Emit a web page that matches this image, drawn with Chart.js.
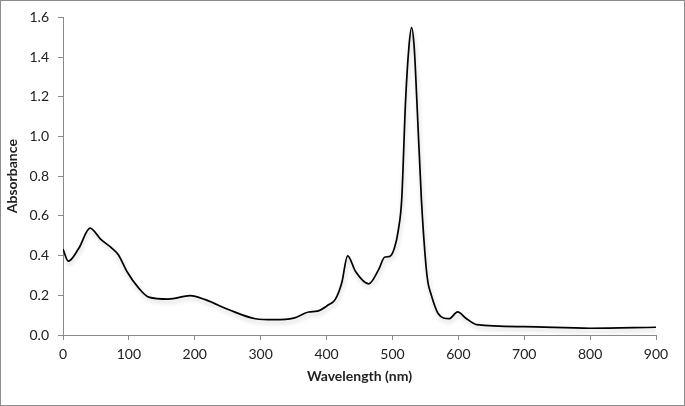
<!DOCTYPE html>
<html>
<head>
<meta charset="utf-8">
<script src="https://cdn.jsdelivr.net/npm/chart.js@4/dist/chart.umd.min.js"></script>
<style>
  body { margin: 0; background: #fff; }
  canvas { display: block; }
</style>
</head>
<body>
<canvas id="spectrum" width="685" height="406"></canvas>
<script>
// absorbance spectrum, values
var wavelength = [0, 8, 24, 41, 57, 74, 84, 97, 115, 130, 160, 193, 216, 252, 292, 320, 350, 373, 386, 403, 413, 423, 432, 444, 464, 479, 488, 496, 503, 509, 514, 520, 525, 529, 533, 537, 544, 551, 554, 558, 569, 586, 599, 611, 628, 700, 800, 900];
var absorbance = [0.433, 0.372, 0.437, 0.538, 0.483, 0.438, 0.404, 0.32, 0.236, 0.191, 0.181, 0.198, 0.178, 0.127, 0.082, 0.077, 0.085, 0.116, 0.12, 0.152, 0.178, 0.262, 0.399, 0.32, 0.258, 0.329, 0.392, 0.396, 0.438, 0.53, 0.68, 1.184, 1.45, 1.548, 1.45, 1.184, 0.68, 0.345, 0.263, 0.211, 0.11, 0.082, 0.116, 0.086, 0.052, 0.042, 0.034, 0.039];

var xTicks = [0, 100, 200, 300, 400, 500, 600, 700, 800, 900];
var yTicks = [0, 0.2, 0.4, 0.6, 0.8, 1.0, 1.2, 1.4, 1.6];

var axisColor = '#8a8a8a';
var textColor = '#222';

// grey frame round the whole picture
const framePlugin = {
    id: 'frame',
    afterDraw(chart) {
        const ctx = chart.ctx;
        ctx.save();
        ctx.strokeStyle = '#8c8c8c';
        ctx.lineWidth = 1;
        ctx.strokeRect(0.5, 0.5, chart.width - 1, chart.height - 1);
        ctx.restore();
    }
};

// soft shadow under the line
const shadowPlugin = {
    id: 'lineShadow',
    beforeDatasetDraw(chart) {
        const ctx = chart.ctx;
        ctx.save();
        ctx.shadowColor = 'rgba(0, 0, 0, 0.2)';
        ctx.shadowBlur = 4;
        ctx.shadowOffsetX = 1;
        ctx.shadowOffsetY = 3;
    },
    afterDatasetDraw(chart) {
        chart.ctx.restore();
    }
};

const points = wavelength.map((w, i) => ({ x: w, y: absorbance[i] }));

new Chart(document.getElementById('spectrum'), {
    type: 'scatter',
    data: {
        datasets: [{
            data: points,
            showLine: true,
            borderColor: '#000',
            borderWidth: 1.7,
            pointRadius: 0,
            cubicInterpolationMode: 'monotone'
        }]
    },
    options: {
        responsive: false,
        animation: false,
        layout: { padding: { left: 0, right: 29, top: 17, bottom: 21 } },
        plugins: {
            legend: { display: false },
            tooltip: { enabled: false }
        },
        scales: {
            x: {
                type: 'linear',
                min: 0,
                max: 900,
                afterBuildTicks: axis => { axis.ticks = xTicks.map(v => ({ value: v })); },
                afterFit: axis => { axis.height = 50; },
                grid: { drawOnChartArea: false, tickLength: 5, color: axisColor },
                border: { color: axisColor },
                ticks: {
                    padding: 6,
                    color: textColor,
                    font: { family: 'Lato', size: 14 }
                },
                title: {
                    display: true,
                    text: 'Wavelength (nm)',
                    color: textColor,
                    padding: { top: 4, bottom: 0 },
                    font: { family: 'Lato', size: 14, weight: 'bold' }
                }
            },
            y: {
                min: 0,
                max: 1.6,
                afterBuildTicks: axis => { axis.ticks = yTicks.map(v => ({ value: v })); },
                afterFit: axis => { axis.width = 63; },
                grid: { drawOnChartArea: false, tickLength: 5, color: axisColor },
                border: { color: axisColor },
                ticks: {
                    padding: 9,
                    color: textColor,
                    font: { family: 'Lato', size: 14 },
                    callback: v => v.toFixed(1)
                },
                title: {
                    display: true,
                    text: 'Absorbance',
                    color: textColor,
                    padding: { bottom: 2 },
                    font: { family: 'Lato', size: 14, weight: 'bold' }
                }
            }
        }
    },
    plugins: [framePlugin, shadowPlugin]
});
</script>
</body>
</html>
